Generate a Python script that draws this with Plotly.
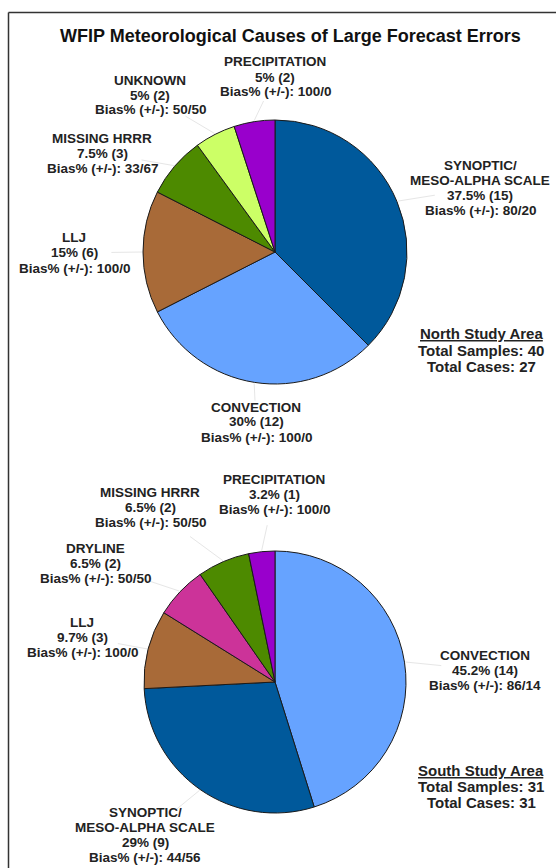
import math
import plotly.graph_objects as go

# ---- data -------------------------------------------------------------
north_causes = ["SYNOPTIC/<br>MESO-ALPHA SCALE", "CONVECTION", "LLJ",
                "MISSING HRRR", "UNKNOWN", "PRECIPITATION"]
north_counts = [15, 12, 6, 3, 2, 2]
north_bias = ["80/20", "100/0", "100/0", "33/67", "50/50", "100/0"]
north_colors = ["#00599b", "#66a3ff", "#a86a38", "#4d8a00", "#ccff66", "#9900cc"]
north_samples = 40
north_cases = 27

south_causes = ["CONVECTION", "SYNOPTIC/<br>MESO-ALPHA SCALE", "LLJ",
                "DRYLINE", "MISSING HRRR", "PRECIPITATION"]
south_counts = [14, 9, 3, 2, 2, 1]
south_bias = ["86/14", "44/56", "100/0", "50/50", "50/50", "100/0"]
south_colors = ["#66a3ff", "#00599b", "#a86a38", "#cc3399", "#4d8a00", "#9900cc"]
south_samples = 31
south_cases = 31

title = "WFIP Meteorological Causes of Large Forecast Errors"

# ---- layout helpers ---------------------------------------------------
W, H = 556, 868
FONT = "Liberation Sans, Arial, sans-serif"


def px(x):
    return x / W


def py(y):
    return 1 - y / H


def pct(n, total):
    s = f"{100 * n / total:.1f}"
    return s[:-2] if s.endswith(".0") else s


# pie placement (pixel centre and radius) and label centres for each slice
north_pie = dict(cx=275, cy=252, r=132)
south_pie = dict(cx=275, cy=682, r=131)
north_label_pos = [(480, 188), (256, 422), (74, 253), (102, 153), (150, 95), (275, 77)]
south_label_pos = [(485, 670), (145, 835), (82, 637), (95, 563), (150, 507), (274, 494)]

fig = go.Figure()
annotations = []
shapes = []


def text_block(lines, cx, cy, size, step, color="#222222"):
    """Stack centred bold lines with a fixed pixel spacing."""
    n = len(lines)
    for i, line in enumerate(lines):
        y = cy + (i - (n - 1) / 2) * step
        annotations.append(dict(
            x=px(cx), y=py(y), xref="paper", yref="paper",
            text=f"<b>{line}</b>", showarrow=False,
            xanchor="center", yanchor="middle",
            font=dict(family=FONT, size=size, color=color),
        ))


def add_pie(causes, counts, bias, colors, pie, label_pos, area, samples, cases, area_pos):
    total = sum(counts)
    cx, cy, r = pie["cx"], pie["cy"], pie["r"]
    fig.add_trace(go.Pie(
        labels=[c.replace("<br>", " ") for c in causes],
        values=counts,
        sort=False,
        direction="clockwise",
        rotation=0,
        marker=dict(colors=colors, line=dict(color="#1a1a1a", width=1)),
        textinfo="none",
        hoverinfo="label+value+percent",
        showlegend=False,
        domain=dict(x=[px(cx - r), px(cx + r)], y=[py(cy + r), py(cy - r)]),
    ))
    cum = 0
    for cause, n, b, (lx, ly) in zip(causes, counts, bias, label_pos):
        mid = (cum + n / 2) / total * 2 * math.pi
        cum += n
        ex = cx + (r + 1) * math.sin(mid)
        ey = cy - (r + 1) * math.cos(mid)
        tx = ex + 0.45 * (lx - ex)
        ty = ey + 0.45 * (ly - ey)
        shapes.append(dict(type="line", xref="paper", yref="paper",
                           x0=px(ex), y0=py(ey), x1=px(tx), y1=py(ty),
                           line=dict(color="#e6e6e6", width=1)))
        lines = cause.split("<br>") + [f"{pct(n, total)}% ({n})", f"Bias% (+/-): {b}"]
        text_block(lines, lx, ly, 13.5, 15)
    text_block([f"<u>{area} Study Area</u>", f"Total Samples: {samples}",
                f"Total Cases: {cases}"], area_pos[0], area_pos[1], 15, 16)


add_pie(north_causes, north_counts, north_bias, north_colors, north_pie,
        north_label_pos, "North", north_samples, north_cases, (481, 350))
add_pie(south_causes, south_counts, south_bias, south_colors, south_pie,
        south_label_pos, "South", south_samples, south_cases, (481, 786))

text_block([title], 290, 36, 18, 20, color="#111111")

# outer frame (left and top edges)
shapes.append(dict(type="line", xref="paper", yref="paper",
                   x0=px(8.5), y0=0, x1=px(8.5), y1=py(12.5),
                   line=dict(color="#333333", width=1.5)))
shapes.append(dict(type="line", xref="paper", yref="paper",
                   x0=px(8.5), y0=py(12.5), x1=1, y1=py(12.5),
                   line=dict(color="#333333", width=1.5)))

fig.update_layout(
    width=W, height=H,
    margin=dict(l=0, r=0, t=0, b=0),
    paper_bgcolor="white",
    plot_bgcolor="white",
    annotations=annotations,
    shapes=shapes,
)

fig.write_html("out.html")
